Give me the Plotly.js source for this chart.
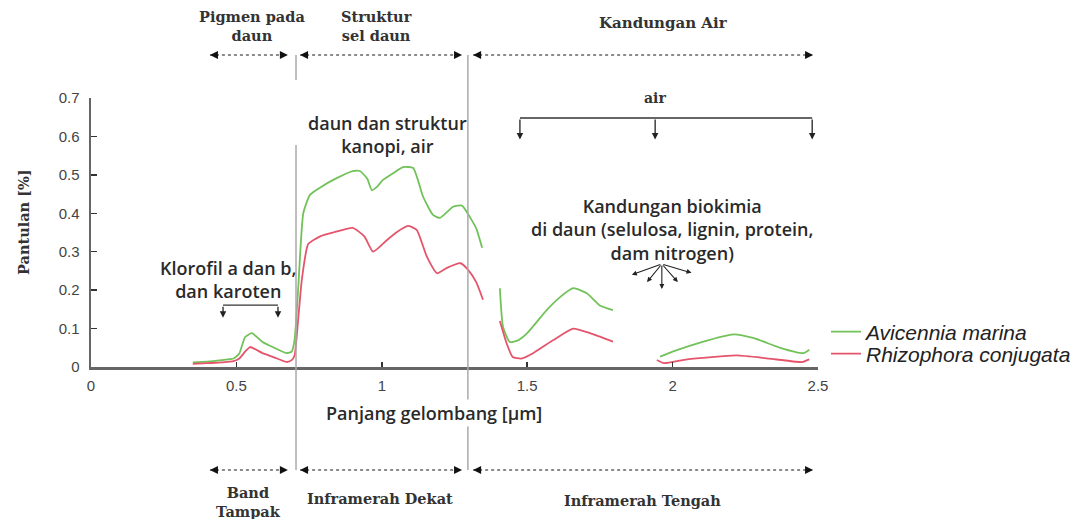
<!DOCTYPE html>
<html>
<head>
<meta charset="utf-8">
<script src="https://cdn.plot.ly/plotly-3.0.1.min.js"></script>
<style>html,body{margin:0;padding:0;background:#fff;}#chart{width:1091px;height:519px;}</style>
</head>
<body>
<div id="chart"></div>
<script>
// ---- data ----
const seriesNames = ["Avicennia marina", "Rhizophora conjugata"];
const avicenniaX = [0.35,0.40,0.45,0.49,0.51,0.53,0.553,0.59,0.63,0.673,0.69,0.70,0.713,0.73,0.753,0.79,0.833,0.90,0.925,0.95,0.966,0.985,1.004,1.04,1.073,1.108,1.142,1.176,1.20,1.245,1.276,1.303,1.325,1.345,1.37,1.406,1.417,1.44,1.47,1.50,1.567,1.61,1.658,1.705,1.75,1.795,1.88,1.957,2.0,2.1,2.21,2.28,2.37,2.45,2.47];
const avicenniaY = [0.012,0.014,0.018,0.022,0.035,0.078,0.088,0.065,0.05,0.036,0.04,0.07,0.21,0.40,0.448,0.468,0.487,0.51,0.51,0.49,0.46,0.47,0.487,0.505,0.52,0.518,0.443,0.396,0.388,0.417,0.42,0.39,0.36,0.31,null,0.205,0.104,0.065,0.07,0.088,0.148,0.18,0.205,0.192,0.16,0.148,null,0.027,0.04,0.065,0.085,0.075,0.05,0.036,0.045];
const rhizophoraX = [0.35,0.40,0.45,0.49,0.51,0.53,0.547,0.59,0.63,0.673,0.69,0.70,0.712,0.725,0.747,0.788,0.833,0.90,0.94,0.97,1.017,1.05,1.09,1.12,1.155,1.19,1.224,1.27,1.297,1.325,1.348,1.37,1.406,1.43,1.45,1.48,1.52,1.59,1.658,1.716,1.795,1.88,1.946,1.97,2.05,2.22,2.33,2.445,2.47];
const rhizophoraY = [0.008,0.01,0.012,0.015,0.022,0.04,0.052,0.036,0.025,0.013,0.018,0.03,0.12,0.227,0.32,0.34,0.35,0.362,0.34,0.30,0.33,0.35,0.367,0.357,0.287,0.244,0.258,0.27,0.253,0.22,0.175,null,0.12,0.06,0.026,0.022,0.036,0.07,0.1,0.088,0.066,null,0.018,0.01,0.02,0.03,0.022,0.013,0.02];
const xTickVals = [0,0.5,1,1.5,2,2.5];
const xTickText = ["0","0.5","1","1.5","2","2.5"];
const yTickVals = [0,0.1,0.2,0.3,0.4,0.5,0.6,0.7];
const yTickText = ["0","0.1","0.2","0.3","0.4","0.5","0.6","0.7"];
const regionTop = ["Pigmen pada<br>daun", "Struktur<br>sel daun", "Kandungan Air"];
const regionBottom = ["Band<br>Tampak", "Inframerah Dekat", "Inframerah Tengah"];
const bounds = [0.705, 1.296];
const notes = ["daun dan struktur<br>kanopi, air", "Klorofil a dan b,<br>dan karoten", "air", "Kandungan biokimia<br>di daun (selulosa, lignin, protein,<br>dam nitrogen)"];

const serif = {family: "DejaVu Serif, Liberation Serif, serif", size: 14.5, color: "#333", weight: 700};
const sans = {family: "Open Sans, Noto Sans, sans-serif", size: 18, color: "#2a2a2a", weight: 600};

const traces = [
  {x: avicenniaX, y: avicenniaY, name: seriesNames[0], mode: "lines", connectgaps: false, legend: "legend",
   line: {color: "#72c25a", width: 1.8, shape: "spline", smoothing: 0.5}},
  {x: rhizophoraX, y: rhizophoraY, name: seriesNames[1], mode: "lines", connectgaps: false, legend: "legend2",
   line: {color: "#e4556c", width: 1.8, shape: "spline", smoothing: 0.5}}
];

// paper-y helper for pixel rows (plot top 98px, bottom 367px)
const py = p => (367 - p) / 269;

const shapes = [];
const annotations = [];
const dotted = {color: "#666", width: 1.5, dash: "dot"};
[[0.409,0.677],[0.719,1.276],[1.314,2.483]].forEach(seg => {
  [55, 470].forEach(row => {
    shapes.push({type: "line", xref: "x", yref: "paper", x0: seg[0], x1: seg[1], y0: py(row), y1: py(row), line: dotted});
    annotations.push({xref: "x", yref: "paper", x: seg[0], y: py(row), ax: 9, ay: 0, text: "", showarrow: true, arrowhead: 2, arrowsize: 1, arrowwidth: 1.6, arrowcolor: "#111"});
    annotations.push({xref: "x", yref: "paper", x: seg[1], y: py(row), ax: -9, ay: 0, text: "", showarrow: true, arrowhead: 2, arrowsize: 1, arrowwidth: 1.6, arrowcolor: "#111"});
  });
});
const vline = {color: "#aaa", width: 1.5};
shapes.push({type: "line", xref: "x", yref: "paper", x0: bounds[0], x1: bounds[0], y0: py(55), y1: py(80), line: vline});
shapes.push({type: "line", xref: "x", yref: "paper", x0: bounds[0], x1: bounds[0], y0: py(145), y1: py(470), line: vline});
shapes.push({type: "line", xref: "x", yref: "paper", x0: bounds[1], x1: bounds[1], y0: py(55), y1: py(470), line: vline});

const br = {color: "#333", width: 1.3};
shapes.push({type: "line", xref: "x", yref: "y", x0: 1.475, x1: 2.48, y0: 0.648, y1: 0.648, line: br});
[1.475, 1.94, 2.48].forEach(xx => annotations.push({xref: "x", yref: "y", x: xx, y: 0.592, axref: "x", ayref: "y", ax: xx, ay: 0.648, text: "", showarrow: true, arrowhead: 2, arrowsize: 1, arrowwidth: 1.3, arrowcolor: "#222"}));
shapes.push({type: "line", xref: "x", yref: "y", x0: 0.454, x1: 0.643, y0: 0.161, y1: 0.161, line: br});
[0.454, 0.643].forEach(xx => annotations.push({xref: "x", yref: "y", x: xx, y: 0.128, axref: "x", ayref: "y", ax: xx, ay: 0.161, text: "", showarrow: true, arrowhead: 2, arrowsize: 1, arrowwidth: 1.3, arrowcolor: "#222"}));
[[1.86,0.24],[1.912,0.221],[1.963,0.203],[2.018,0.221],[2.065,0.245]].forEach(t => annotations.push({xref: "x", yref: "y", x: t[0], y: t[1], axref: "x", ayref: "y", ax: 1.963, ay: 0.268, text: "", showarrow: true, arrowhead: 2, arrowsize: 0.9, arrowwidth: 1.1, arrowcolor: "#222"}));

function label(xref, yref, x, y, text, font, extra) {
  annotations.push(Object.assign({xref: xref, yref: yref, x: x, y: y, text: text, showarrow: false,
    xanchor: "center", yanchor: "middle", font: font}, extra || {}));
}
label("x", "paper", 0.553, py(26), regionTop[0], serif);
label("x", "paper", 0.983, py(26), regionTop[1], serif);
label("x", "paper", 1.967, py(23), regionTop[2], Object.assign({}, serif, {size: 15}));
label("x", "paper", 0.54, py(502), regionBottom[0], serif);
label("x", "paper", 0.994, py(498), regionBottom[1], serif);
label("x", "paper", 1.898, py(500), regionBottom[2], serif);

label("x", "y", 1.018, 0.604, notes[0], sans);
label("x", "y", 0.471, 0.229, notes[1], sans);
label("x", "y", 1.94, 0.70, notes[2], Object.assign({}, serif, {size: 14}));
label("x", "y", 1.998, 0.357, notes[3], sans);

label("x", "paper", 1.18, py(413), "Panjang gelombang [µm]", sans, {bgcolor: "#fff"});
label("paper", "paper", (23 - 91) / 727, py(222), "Pantulan [%]", {family: "DejaVu Serif, serif", size: 14.5, color: "#333", weight: 700}, {textangle: -90});

const tickfont = {family: "Liberation Sans, Arial, sans-serif", size: 15, color: "#444"};
const legendFont = {family: "Liberation Sans, Arial, sans-serif", size: 21, style: "italic", color: "#222"};
const layout = {
  width: 1091, height: 519,
  margin: {l: 91, r: 273, t: 98, b: 152},
  paper_bgcolor: "#fff", plot_bgcolor: "#fff",
  showlegend: true,
  legend: {x: 1.011, xanchor: "left", y: (367 - 332) / 269, yanchor: "middle", bgcolor: "rgba(0,0,0,0)", font: legendFont},
  legend2: {x: 1.011, xanchor: "left", y: (367 - 354) / 269, yanchor: "middle", bgcolor: "rgba(0,0,0,0)", font: legendFont},
  xaxis: {range: [0, 2.5], tickvals: xTickVals, ticktext: xTickText, ticks: "inside", ticklen: 5, tickwidth: 1.5, tickcolor: "#333",
          showline: true, linecolor: "#666", linewidth: 2.5, showgrid: false, zeroline: false, tickfont: tickfont, ticklabelstandoff: 3},
  yaxis: {range: [0, 0.7], tickvals: yTickVals, ticktext: yTickText, ticks: "inside", ticklen: 6, tickwidth: 1.5, tickcolor: "#333",
          showline: true, linecolor: "#666", linewidth: 2.5, showgrid: false, zeroline: false, tickfont: tickfont, ticklabelstandoff: 6},
  shapes: shapes,
  annotations: annotations
};
Plotly.newPlot("chart", traces, layout, {displayModeBar: false, staticPlot: true});
</script>
</body>
</html>
